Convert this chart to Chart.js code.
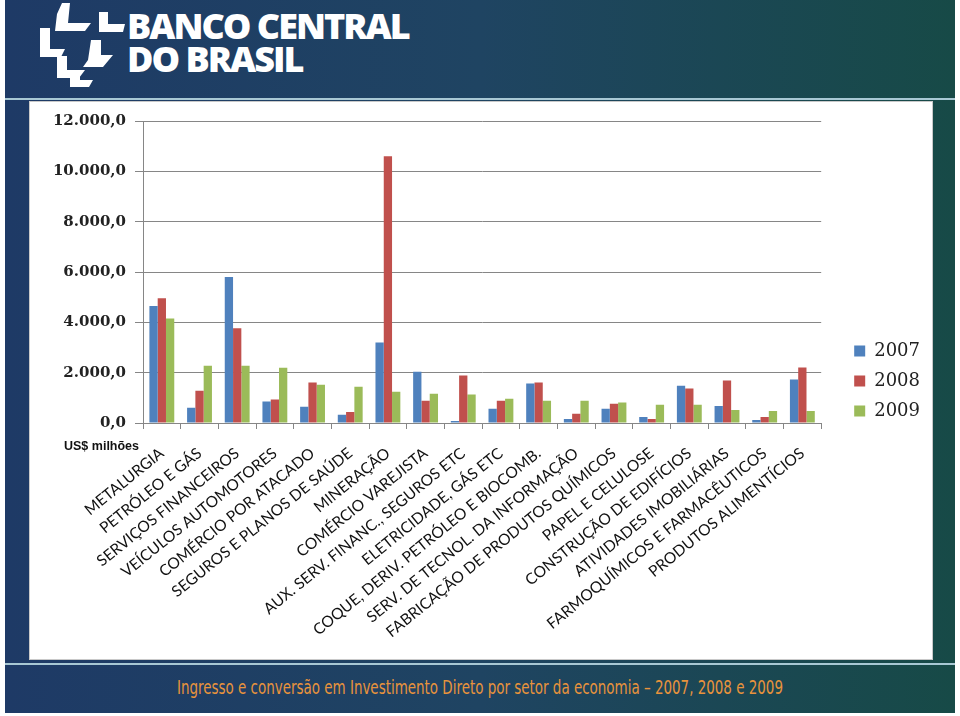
<!DOCTYPE html>
<html lang="pt-BR">
<head>
<meta charset="utf-8">
<title>Investimento Direto por setor da economia</title>
<script src="https://cdn.jsdelivr.net/npm/chart.js@4.4.1/dist/chart.umd.min.js"></script>
<style>
  html, body { margin: 0; padding: 0; background: #fff; }
  body { width: 960px; height: 716px; position: relative; overflow: hidden; }
  #slide {
    position: absolute; left: 5px; top: 0; width: 950px; height: 713px;
    background: linear-gradient(90deg, #1e3a66 0%, #1f4462 50%, #174a47 100%);
  }
  .rule { position: absolute; left: 0; width: 950px; height: 2px; background: #a8c8d4; }
  .brand {
    position: absolute; left: 122px; color: #fff;
    font-family: "Open Sans", sans-serif; font-weight: 800; font-size: 36px;
    line-height: 36px; letter-spacing: -2px; white-space: nowrap;
  }
  #panel {
    position: absolute; left: 24px; top: 101px; width: 904px; height: 559px;
    background: #fff; box-sizing: border-box; border: 1px solid #c9c9c9;
  }
  #chartBox { position: absolute; left: 0; top: 0; width: 904px; height: 559px; }
  #unit {
    position: absolute; left: 34px; top: 337px;
    font-family: "Liberation Sans", Arial, sans-serif; font-weight: bold; font-size: 12.5px; color: #111;
  }
  #footer {
    position: absolute; left: 172px; top: 676px; white-space: nowrap;
    font-family: "DejaVu Sans Condensed", "DejaVu Sans", sans-serif; font-stretch: condensed;
    font-size: 19px; color: #e8933c; transform-origin: 0 0;
  }
</style>
</head>
<body>
<div id="slide">
  <svg width="130" height="95" style="position:absolute;left:30px;top:0" viewBox="0 0 130 95">
    <g fill="#fff">
      <polygon points="27,3 35,3 33,23 56,23 50,31 20,31 22,14"/>
      <polygon points="64,12 73,12 73,24 90,24 88,32 64,32"/>
      <polygon points="5,28 15,28 15,49 30,49 26,57 5,57"/>
      <polygon points="56,40 66,40 66,55 78,55 68,67 48,67 53,60"/>
      <polygon points="22,56 32,56 32,70 50,70 44,78 22,78"/>
      <polygon points="35,72 45,72 45,80 58,80 54,87 35,87"/>
    </g>
  </svg>
  <div class="brand" style="top:8px">BANCO CENTRAL</div>
  <div class="brand" style="top:41px">DO BRASIL</div>
  <div class="rule" style="top:98px"></div>
  <div id="panel">
    <div id="chartBox"><canvas id="bcbChart"></canvas></div>
    <div id="unit">US$ milhões</div>
  </div>
  <div class="rule" style="top:663px"></div>
  <div id="footer">Ingresso e conversão em Investimento Direto por setor da economia – 2007, 2008 e 2009</div>
</div>

<script>
// --- dados ---
const setores = [
  "METALURGIA", "PETRÓLEO E GÁS", "SERVIÇOS FINANCEIROS", "VEÍCULOS AUTOMOTORES",
  "COMÉRCIO POR ATACADO", "SEGUROS E PLANOS DE SAÚDE", "MINERAÇÃO", "COMÉRCIO VAREJISTA",
  "AUX. SERV. FINANC., SEGUROS ETC", "ELETRICIDADE, GÁS ETC", "COQUE, DERIV. PETRÓLEO E BIOCOMB.",
  "SERV. DE TECNOL. DA INFORMAÇÃO", "FABRICAÇÃO DE PRODUTOS QUÍMICOS", "PAPEL E CELULOSE",
  "CONSTRUÇÃO DE EDIFÍCIOS", "ATIVIDADES IMOBILIÁRIAS", "FARMOQUÍMICOS E FARMACÊUTICOS",
  "PRODUTOS ALIMENTÍCIOS"
];
const anos = ["2007", "2008", "2009"];
const valores2007 = [4650, 610, 5800, 850, 650, 330, 3200, 2040, 80, 570, 1570, 160, 570, 240, 1480, 680, 120, 1730];
const valores2008 = [4960, 1280, 3760, 930, 1610, 440, 10600, 880, 1890, 880, 1610, 370, 760, 160, 1370, 1690, 240, 2210];
const valores2009 = [4150, 2270, 2270, 2200, 1520, 1440, 1240, 1160, 1130, 960, 880, 880, 810, 730, 730, 520, 480, 480];
const eixoY = { min: 0, max: 12000, passo: 2000 };
const cores = ["#4f81bd", "#c0504d", "#9bbb59"];

// 12000 -> "12.000,0"
function formatBR(v) {
  const inteiro = Math.round(v).toString().replace(/\B(?=(\d{3})+(?!\d))/g, ".");
  return inteiro + ",0";
}

const cinza = "#868686";

new Chart(document.getElementById("bcbChart").getContext("2d"), {
  type: "bar",
  data: {
    labels: setores,
    datasets: [
      { label: anos[0], data: valores2007, backgroundColor: cores[0] },
      { label: anos[1], data: valores2008, backgroundColor: cores[1] },
      { label: anos[2], data: valores2009, backgroundColor: cores[2] }
    ]
  },
  options: {
    animation: false,
    responsive: true,
    maintainAspectRatio: false,
    datasets: { bar: { categoryPercentage: 0.66, barPercentage: 1.0 } },
    // padding de baixo só serve para subir a legenda
    layout: { padding: { top: 19, right: 4, left: 0, bottom: 20 } },
    scales: {
      x: {
        ticks: {
          autoSkip: false, minRotation: 39, maxRotation: 39, padding: 15,
          color: "#111", font: { family: "Lato", size: 15.5 }
        },
        grid: { drawOnChartArea: false, tickLength: 6, color: cinza, offset: true },
        border: { color: cinza },
        afterFit: s => { s.height = 218; }
      },
      y: {
        min: eixoY.min, max: eixoY.max,
        ticks: {
          stepSize: eixoY.passo, padding: 9, color: "#222",
          font: { family: "DejaVu Serif", weight: "bold", size: 15 },
          callback: v => formatBR(v)
        },
        grid: { color: cinza, tickLength: 8 },
        border: { color: cinza },
        afterFit: s => { s.width = 113; }
      },
      // espaço entre o gráfico e a legenda
      espaco: {
        type: "linear", position: "right", display: true,
        ticks: { display: false }, grid: { display: false }, border: { display: false },
        afterFit: s => { s.width = 21; }
      }
    },
    plugins: {
      tooltip: { enabled: false },
      legend: {
        position: "right", align: "center",
        labels: {
          boxWidth: 11, boxHeight: 11, padding: 12, color: "#222",
          font: { family: "DejaVu Serif", size: 18 }
        }
      }
    }
  }
});

// ajusta a largura do rodapé
const rodape = document.getElementById("footer");
rodape.style.transform = "scaleX(" + (606 / rodape.scrollWidth) + ")";
</script>
</body>
</html>
